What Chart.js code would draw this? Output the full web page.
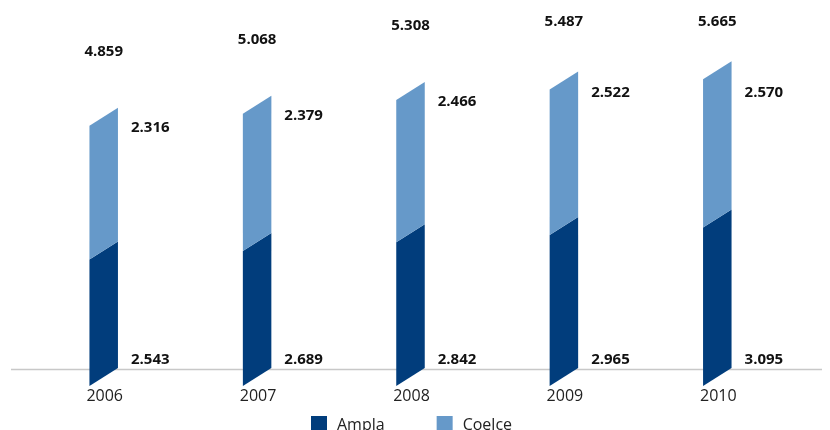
<!DOCTYPE html>
<html>
<head>
<meta charset="utf-8">
<script src="https://cdn.jsdelivr.net/npm/chart.js@4/dist/chart.umd.min.js"></script>
<style>
  html, body { margin: 0; padding: 0; background: #fff; }
  #chart { display: block; }
</style>
</head>
<body>
<canvas id="chart" width="830" height="430"></canvas>
<script>
const years = ['2006', '2007', '2008', '2009', '2010'];
const ampla = [2543, 2689, 2842, 2965, 3095];
const coelce = [2316, 2379, 2466, 2522, 2570];

const AMPLA_COLOR = '#013d7c';
const COELCE_COLOR = '#6699c9';
const SKEW = 18;

function fmt(v) {
    return String(v).replace(/\B(?=(\d{3})+(?!\d))/g, '.');
}

// bar geometry, with the base cut at the bottom of the plot area
function barProps(chart, el) {
    const p = el.getProps(['x', 'y', 'base', 'width'], true);
    return {
        x: p.x,
        y: p.y,
        width: p.width,
        base: Math.min(p.base, chart.chartArea.bottom)
    };
}

// draws the bars as slanted slabs, plus axis line, labels and legend
const slabPlugin = {
    id: 'slabs',
    beforeDatasetsDraw(chart) {
        const ctx = chart.ctx;
        const bottom = chart.chartArea.bottom;
        ctx.save();
        ctx.strokeStyle = '#c8c8c8';
        ctx.lineWidth = 1.5;
        ctx.beginPath();
        ctx.moveTo(11, bottom + 1.5);
        ctx.lineTo(822, bottom + 1.5);
        ctx.stroke();

        chart.data.datasets.forEach((ds, d) => {
            const meta = chart.getDatasetMeta(d);
            ctx.fillStyle = ds.backgroundColor;
            meta.data.forEach(el => {
                const p = barProps(chart, el);
                const l = p.x - p.width / 2;
                const r = p.x + p.width / 2;
                ctx.beginPath();
                ctx.moveTo(l, p.y + SKEW);
                ctx.lineTo(r, p.y);
                ctx.lineTo(r, p.base);
                ctx.lineTo(l, p.base + SKEW);
                ctx.closePath();
                ctx.fill();
            });
        });
        ctx.restore();
    },
    beforeDatasetDraw() {
        return false;
    },
    afterDatasetsDraw(chart) {
        const ctx = chart.ctx;
        const m0 = chart.getDatasetMeta(0);
        const m1 = chart.getDatasetMeta(1);
        ctx.save();
        ctx.textBaseline = 'middle';
        years.forEach((yr, i) => {
            const a = barProps(chart, m0.data[i]);
            const c = barProps(chart, m1.data[i]);
            const rx = a.x + a.width / 2 + 13;

            ctx.fillStyle = '#111';
            ctx.font = 'bold 15px "Open Sans"';
            ctx.textAlign = 'left';
            ctx.fillText(fmt(ampla[i]), rx, a.base - 8);
            ctx.fillText(fmt(coelce[i]), rx, Math.max(c.y + 20, 93));
            ctx.textAlign = 'center';
            ctx.fillText(fmt(ampla[i] + coelce[i]), c.x, Math.max(c.y - 56, 22));

            ctx.font = '16px "Open Sans"';
            ctx.fillStyle = '#222';
            ctx.fillText(yr, a.x + 1, 396);
        });

        // legend
        ctx.font = '16px "Open Sans"';
        ctx.textAlign = 'left';
        ctx.textBaseline = 'alphabetic';
        let x = 311;
        chart.data.datasets.forEach(ds => {
            ctx.fillStyle = ds.backgroundColor;
            ctx.fillRect(x, 416, 16, 16);
            ctx.fillStyle = '#222';
            ctx.fillText(ds.label, x + 26, 430);
            x += 26 + ctx.measureText(ds.label).width + 52;
        });
        ctx.restore();
    }
};

new Chart(document.getElementById('chart'), {
    type: 'bar',
    data: {
        labels: years,
        datasets: [
            { label: 'Ampla', data: ampla, backgroundColor: AMPLA_COLOR, barThickness: 28.5 },
            { label: 'Coelce', data: coelce, backgroundColor: COELCE_COLOR, barThickness: 28.5 }
        ]
    },
    options: {
        responsive: false,
        animation: false,
        layout: { padding: { left: 27, right: 36, top: 42, bottom: 62 } },
        scales: {
            x: { display: false, stacked: true },
            y: { display: false, stacked: true, min: 350, max: 6000 }
        },
        plugins: {
            legend: { display: false },
            tooltip: { enabled: false }
        }
    },
    plugins: [slabPlugin]
});
</script>
</body>
</html>
